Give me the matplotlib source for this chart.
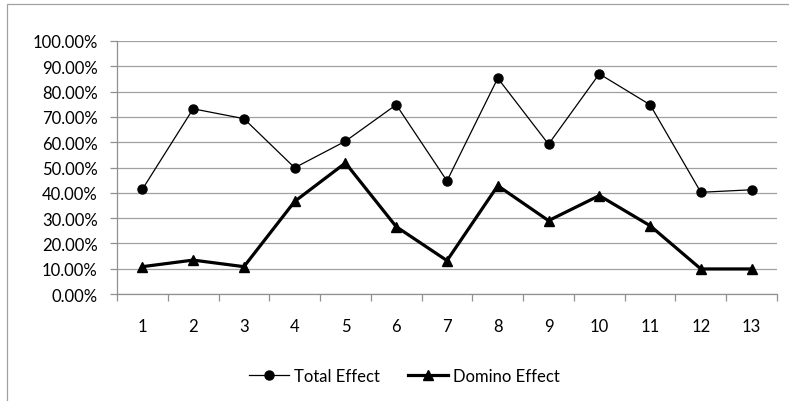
import matplotlib
matplotlib.use("Agg")
import matplotlib.pyplot as plt
from matplotlib.patches import Rectangle
from matplotlib.ticker import FuncFormatter, FixedLocator, NullFormatter

categories = [str(i) for i in range(1, 14)]
total_effect = [0.414, 0.732, 0.693, 0.499, 0.604, 0.748, 0.447, 0.853,
                0.592, 0.870, 0.748, 0.402, 0.412]
domino_effect = [0.108, 0.134, 0.108, 0.366, 0.518, 0.266, 0.132, 0.428,
                 0.290, 0.389, 0.270, 0.099, 0.099]
y_ticks = [i / 10 for i in range(11)]

plt.rcParams["font.family"] = ["Lato", "DejaVu Sans"]
plt.rcParams["font.size"] = 12

fig = plt.figure(figsize=(7.89, 4.02), dpi=100)

# outer chart border (cropped at right/bottom in the reference)
fig.patches.append(Rectangle((7 / 789, -0.1), 1.2, 1.1 - 5 / 402,
                             transform=fig.transFigure, fill=False,
                             edgecolor="#a0a0a0", linewidth=0.9))

ax = fig.add_axes([117 / 789, 1 - 295 / 402, (777 - 117) / 789, (295 - 42) / 402])

x = list(range(len(categories)))
ax.plot(x, total_effect, color="black", linewidth=0.9, marker="o",
        markersize=6.5, label="Total Effect")
ax.plot(x, domino_effect, color="black", linewidth=2.3, marker="^",
        markersize=7.5, label="Domino Effect")

ax.set_xlim(-0.5, len(categories) - 0.5)
ax.set_ylim(0, 1.0)
ax.set_yticks(y_ticks)
ax.yaxis.set_major_formatter(FuncFormatter(lambda v, p: f"{v * 100:.2f}%"))

ax.set_xticks(x)
ax.set_xticklabels(categories)
ax.xaxis.set_minor_locator(FixedLocator([i - 0.5 for i in range(len(categories) + 1)]))
ax.xaxis.set_minor_formatter(NullFormatter())
ax.tick_params(axis="x", which="major", length=0, pad=17)
ax.tick_params(axis="x", which="minor", length=5, color="#909090", width=0.9)
ax.tick_params(axis="y", length=5, color="#909090", width=0.9, pad=9)

ax.grid(axis="y", color="#a0a0a0", linewidth=0.9)
ax.set_axisbelow(True)
for side in ("top", "right"):
    ax.spines[side].set_visible(False)
for side in ("left", "bottom"):
    ax.spines[side].set_color("#909090")
    ax.spines[side].set_linewidth(0.9)

handles, labels = ax.get_legend_handles_labels()
fig.legend(handles, labels, loc="center", bbox_to_anchor=(404 / 789, 1 - 377 / 402),
           ncol=2, frameon=False, handlelength=2.4, columnspacing=1.7,
           handletextpad=0.3)

fig.savefig("out.png", dpi=100)
